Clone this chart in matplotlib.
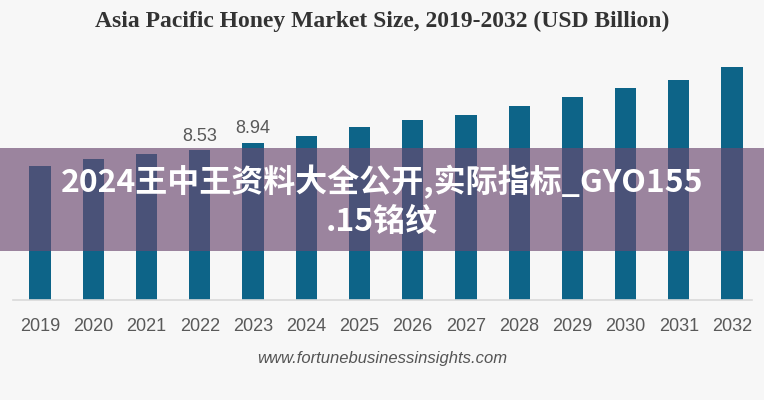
import matplotlib.pyplot as plt
from matplotlib.patches import Rectangle

# Asia Pacific honey market size, USD billion
years = ['2019', '2020', '2021', '2022', '2023', '2024', '2025',
         '2026', '2027', '2028', '2029', '2030', '2031', '2032']
values = [7.61, 8.01, 8.31, 8.53, 8.94, 9.32, 9.83,
          10.23, 10.51, 11.02, 11.53, 12.05, 12.50, 13.24]
labelled = ['2022', '2023']

title = 'Asia Pacific Honey Market Size, 2019-2032 (USD Billion)'
source = 'www.fortunebusinessinsights.com'
banner_lines = ['2024王中王资料大全公开,实际指标_GYO155', '.15铭纹']

bg = '#f7f7f7'
bar_col = '#0d6488'
txt_col = '#595959'

fig = plt.figure(figsize=(7.64, 4.0), dpi=100, facecolor=bg)
ax = fig.add_axes([13/764, 0.25, (752-13)/764, 0.60])
ax.set_facecolor(bg)

x = range(len(years))
ax.bar(x, values, width=0.4, color=bar_col, zorder=2)
for i, (yr, v) in enumerate(zip(years, values)):
    if yr in labelled:
        ax.text(i, v + 0.3, '%.2f' % v, ha='center', va='bottom',
                fontsize=13, color=txt_col, family='Liberation Sans')

ax.set_xlim(-0.51, 13.375)
ax.set_ylim(0, 240/17.6)
ax.set_xticks(list(x))
ax.set_xticklabels(years, fontsize=13, color=txt_col, family='Liberation Sans')
ax.tick_params(axis='x', length=0, pad=13)
ax.set_yticks([])
for s in ['top', 'left', 'right']:
    ax.spines[s].set_visible(False)
ax.spines['bottom'].set_color('#d9d9d9')
ax.spines['bottom'].set_linewidth(1.2)

fig.text(0.5, 1 - 21/400, title, ha='center', va='center', fontsize=17,
         fontweight='bold', family='Liberation Serif', color='#333333')
fig.text(0.5, 1 - 358/400, source, ha='center', va='center', fontsize=12,
         style='italic', family='Liberation Sans', color='#555555')

# purple overlay banner with watermark text
fig.patches.append(Rectangle((0, (400-251)/400), 1, 103/400, transform=fig.transFigure,
                             facecolor='#6b4970', alpha=0.66, edgecolor='none', zorder=5))
fams = ['Noto Sans CJK SC', 'DejaVu Sans']
fig.text(0.5, 1 - 182/400, banner_lines[0], ha='center', va='center', fontsize=23,
         fontweight='bold', family=fams, color='white', zorder=6)
fig.text(0.5, 1 - 222/400, banner_lines[1], ha='center', va='center', fontsize=23,
         fontweight='bold', family=fams, color='white', zorder=6)

fig.savefig('out.png', dpi=100, facecolor=bg)
